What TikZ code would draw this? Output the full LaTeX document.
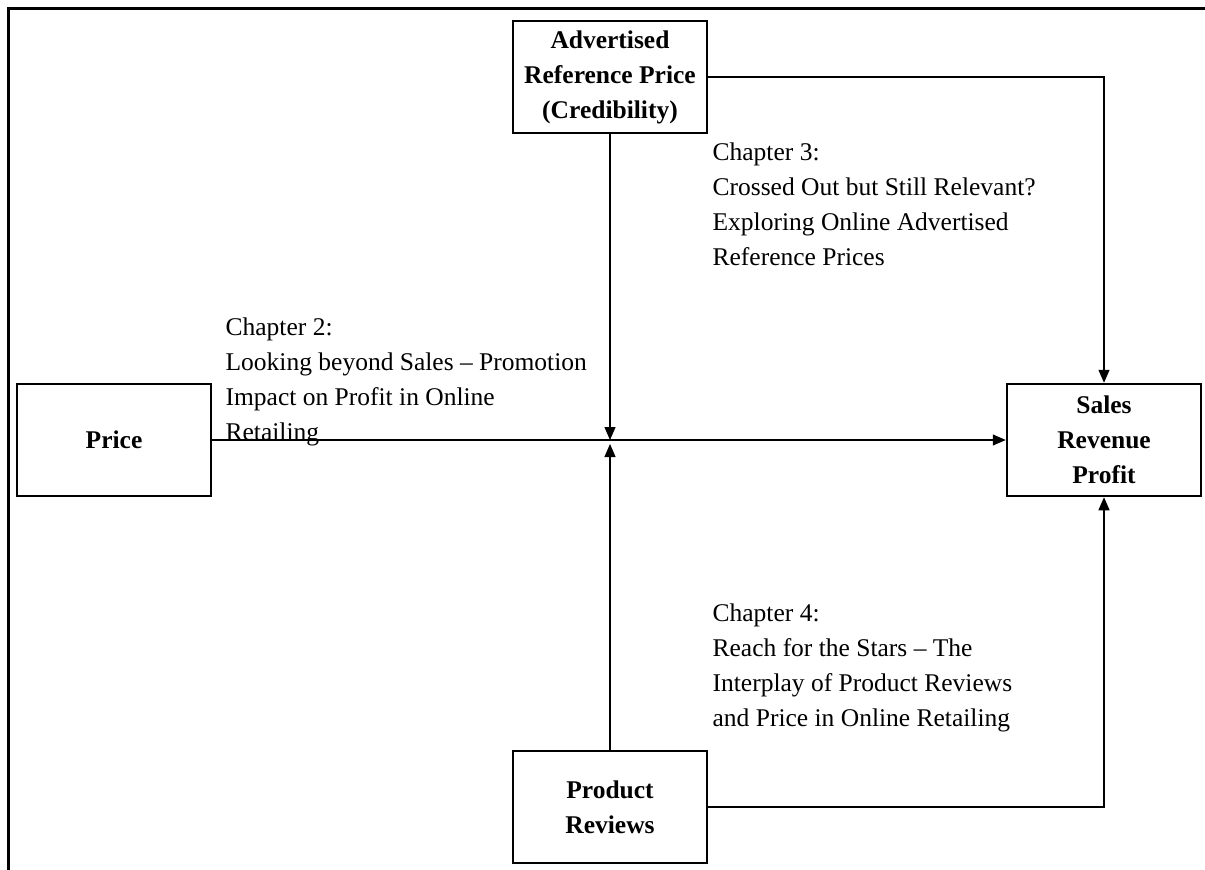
\documentclass[tikz,border=0pt]{standalone}
\usepackage{fontspec}
\setmainfont{Liberation Serif}
\usetikzlibrary{arrows.meta}

\begin{document}
\begin{tikzpicture}[x=1pt,y=-1pt,
  boxstyle/.style={draw,line width=2.5pt,minimum width=194,minimum height=112,inner sep=0,align=center,font=\fontsize{25.5}{35}\selectfont\bfseries},
  chapstyle/.style={anchor=north west,inner sep=0,align=left,font=\fontsize{25.5}{35}\selectfont},
  >={Triangle[length=13,width=11]}, line width=1.3pt]
  \useasboundingbox (0,0) rectangle (1205,870);
  \draw[line width=3pt] (8,870) -- (8,8) -- (1205,8);

  \node [boxstyle] (adv)   at (610,77)  {Advertised\\Reference Price\\(Credibility)};
  \node [boxstyle] (price) at (114,440) {Price};
  \node [boxstyle] (sales) at (1104,440) {Sales\\Revenue\\Profit};
  \node [boxstyle] (prod)  at (610,807) {Product\\Reviews};
  \coordinate (hub) at (610,440);

  \node [chapstyle] (ch2) at (225,317) {Chapter 2:\\Looking beyond Sales -- Promotion\\Impact on Profit in Online\\Retailing};
  \node [chapstyle] (ch3) at (712,142) {Chapter 3:\\Crossed Out but Still Relevant?\\Exploring Online Advertised\\Reference Prices};
  \node [chapstyle] (ch4) at (712,603) {Chapter 4:\\Reach for the Stars -- The\\Interplay of Product Reviews\\and Price in Online Retailing};

  \draw[->] (price) -- (sales);
  \draw[->] (adv) -- (hub);
  \draw[->,shorten >=4pt] (prod) -- (hub);
  \draw[->] (adv.east) -| (sales.north);
  \draw[->] (prod.east) -| (sales.south);

\end{tikzpicture}
\end{document}
